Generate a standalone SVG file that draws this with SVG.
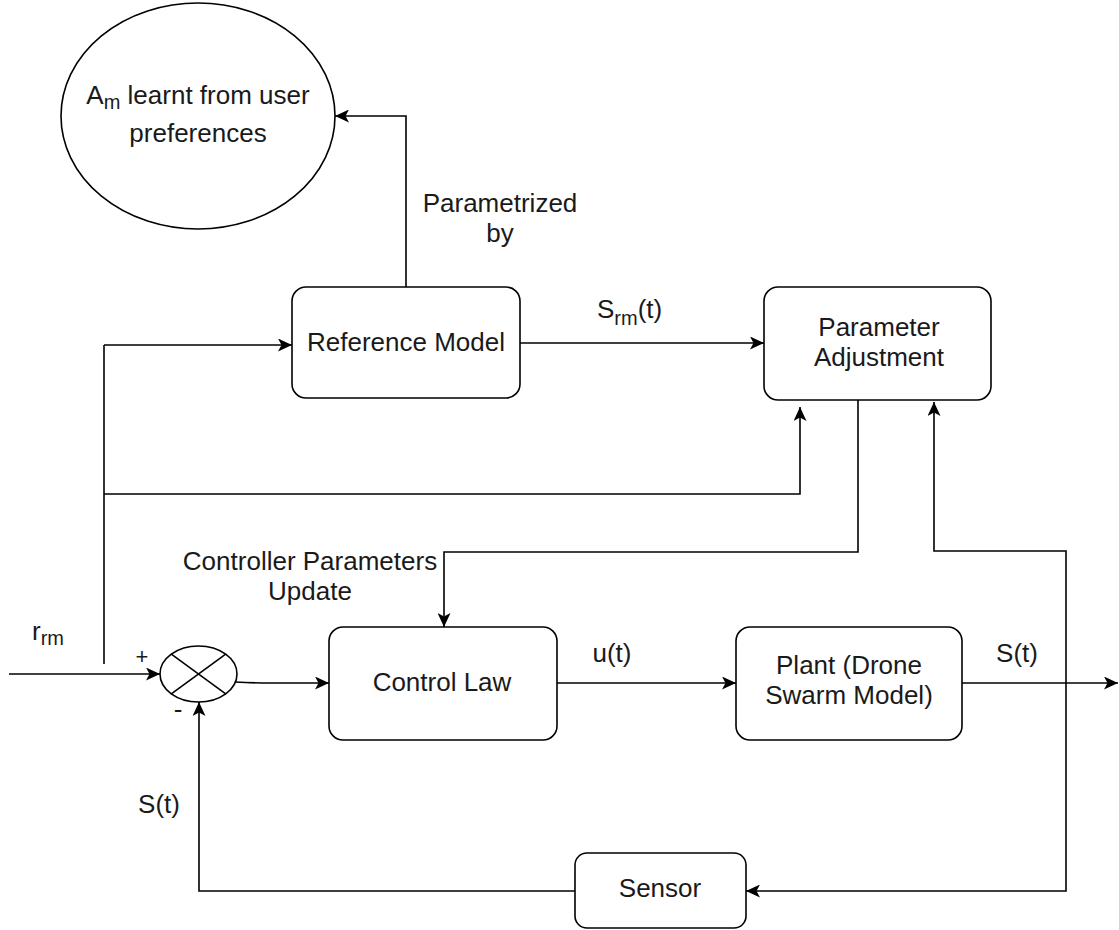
<svg xmlns="http://www.w3.org/2000/svg" width="1119" height="930" viewBox="0 0 1119 930">
  <style>
    .shape { fill: #ffffff; stroke: #000000; stroke-width: 1.6; }
    .wire { fill: none; stroke: #000000; stroke-width: 1.6; }
    .wa { fill: none; stroke: #000000; stroke-width: 1.6; marker-end: url(#arr); }
    text { font-family: "Liberation Sans", Arial, Helvetica, sans-serif; font-size: 26px; fill: #1a1a1a; }
    .c { text-anchor: middle; }
    .sub { font-size: 20px; }
  </style>
  <defs>
    <marker id="arr" viewBox="0 0 14 13" refX="14" refY="6.5" markerWidth="14" markerHeight="13" markerUnits="userSpaceOnUse" orient="auto">
      <path d="M0,0 L14,6.5 L0,13 L3.5,6.5 Z" fill="#000000"/>
    </marker>
  </defs>
  <rect width="1119" height="930" fill="#ffffff"/>

  <g id="connectors">
    <path class="wa" d="M406,287 L406,116 L335,116"/>
    <path class="wa" d="M520,343 L764,343"/>
    <path class="wire" d="M104,664 L104,345"/>
    <path class="wa" d="M104,345 L292,345"/>
    <path class="wa" d="M104,494 L800,494 L800,407"/>
    <path class="wa" d="M858,400 L858,552 L444,552 L444,627"/>
    <path class="wa" d="M1066,683 L1066,551 L934,551 L934,402"/>
    <path class="wa" d="M9,674 L160,674"/>
    <path class="wa" d="M235,682 Q252,683 270,683 L329,683"/>
    <path class="wa" d="M557,683 L736,683"/>
    <path class="wa" d="M962,683 L1118,683"/>
    <path class="wa" d="M1066,683 L1066,891 L746,891"/>
    <path class="wa" d="M575,891 L199,891 L199,702"/>
  </g>

  <g id="user-preferences">
    <ellipse class="shape" cx="198" cy="116" rx="137" ry="113"/>
    <text class="c" x="198" y="104">A<tspan class="sub" dy="5">m</tspan><tspan dy="-5"> learnt from user</tspan></text>
    <text class="c" x="198" y="142">preferences</text>
  </g>

  <g id="reference-model">
    <rect class="shape" x="292" y="287" width="228" height="111" rx="14" ry="14"/>
    <text class="c" x="406" y="351">Reference Model</text>
  </g>

  <g id="parameter-adjustment">
    <rect class="shape" x="764" y="287" width="227" height="113" rx="14" ry="14"/>
    <text class="c" x="879" y="336">Parameter</text>
    <text class="c" x="879" y="366">Adjustment</text>
  </g>

  <g id="summing-junction">
    <ellipse class="shape" cx="198.5" cy="674" rx="38.5" ry="28"/>
    <line class="wire" x1="171.3" y1="654.2" x2="225.7" y2="693.8"/>
    <line class="wire" x1="171.3" y1="693.8" x2="225.7" y2="654.2"/>
  </g>

  <g id="control-law">
    <rect class="shape" x="329" y="627" width="228" height="113" rx="14" ry="14"/>
    <text class="c" x="442" y="691">Control Law</text>
  </g>

  <g id="plant">
    <rect class="shape" x="736" y="627" width="226" height="113" rx="14" ry="14"/>
    <text class="c" x="849" y="674">Plant (Drone</text>
    <text class="c" x="849" y="704">Swarm Model)</text>
  </g>

  <g id="sensor">
    <rect class="shape" x="575" y="853" width="171" height="75" rx="12" ry="12"/>
    <text class="c" x="660" y="897">Sensor</text>
  </g>

  <g id="labels">
    <text class="c" x="500" y="212">Parametrized</text>
    <text class="c" x="500" y="242">by</text>
    <text x="597" y="318">S<tspan class="sub" dy="7">rm</tspan><tspan dy="-7">(t)</tspan></text>
    <text class="c" x="310" y="570">Controller Parameters</text>
    <text class="c" x="310" y="600">Update</text>
    <text x="32" y="640">r<tspan class="sub" dy="5">rm</tspan></text>
    <text class="c" x="142" y="664" style="font-size:22px">+</text>
    <text class="c" x="178" y="718" style="font-size:26px">-</text>
    <text class="c" x="612" y="662">u(t)</text>
    <text class="c" x="1017" y="662">S(t)</text>
    <text class="c" x="159" y="813">S(t)</text>
  </g>
</svg>
